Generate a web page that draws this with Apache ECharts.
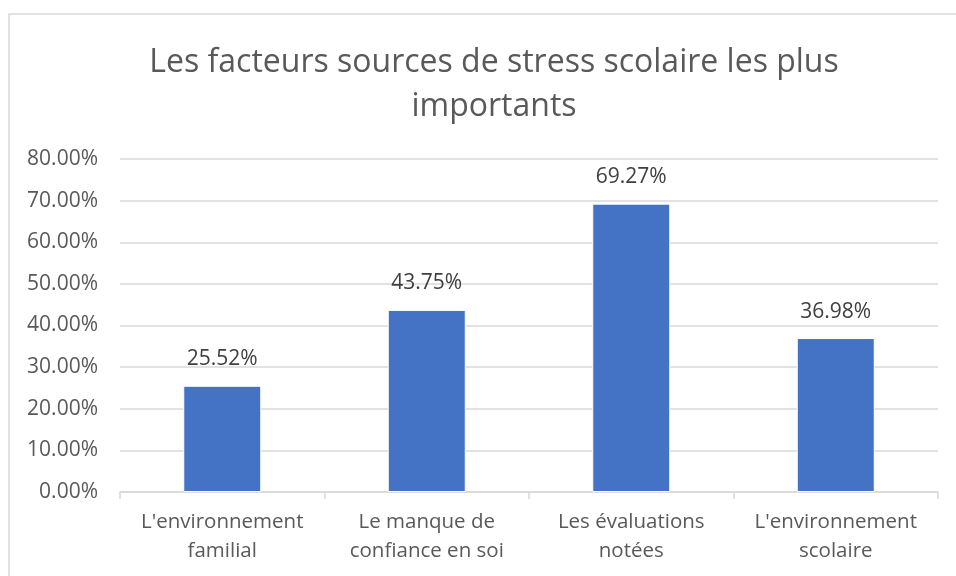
<!DOCTYPE html>
<html lang="fr">
<head>
    <meta charset="utf-8">
    <title>stress scolaire</title>
    <script src="https://cdn.jsdelivr.net/npm/echarts@6/dist/echarts.min.js"></script>
    <style>
        html, body { margin: 0; padding: 0; background: #fff; }
        #container { width: 956px; height: 576px; }
    </style>
</head>
<body>
<div id="container"></div>
<script>
    const categories = [
        "L'environnement\nfamilial",
        "Le manque de\nconfiance en soi",
        "Les évaluations\nnotées",
        "L'environnement\nscolaire"
    ];
    const values = [25.52, 43.75, 69.27, 36.98];
    const titleText = "Les facteurs sources de stress scolaire les plus\nimportants";

    const font = "'Open Sans', 'Noto Sans', sans-serif";

    const option = {
        animation: false,
        textStyle: { fontFamily: font },
        title: {
            text: titleText,
            left: 489,
            textAlign: "center",
            top: 36,
            textStyle: {
                fontFamily: font,
                fontSize: 32,
                fontWeight: "normal",
                color: "#595959",
                lineHeight: 44
            }
        },
        graphic: [{
            type: "rect",
            shape: { x: 9, y: 14, width: 1000, height: 700 },
            style: { fill: "none", stroke: "#d9d9d9", lineWidth: 1.5 },
            silent: true,
            z: -1
        }],
        grid: {
            left: 120,
            right: 18,
            top: 159,
            bottom: 84
        },
        xAxis: {
            type: "category",
            data: categories,
            axisLine: { lineStyle: { color: "#d9d9d9", width: 1.5 } },
            axisTick: { show: true, length: 7, lineStyle: { color: "#d9d9d9", width: 1.5 } },
            axisLabel: {
                fontFamily: font,
                fontSize: 20.5,
                color: "#595959",
                lineHeight: 29,
                margin: 16,
                interval: 0
            }
        },
        yAxis: {
            type: "value",
            min: 0,
            max: 80,
            interval: 10,
            axisLine: { show: false },
            axisTick: { show: false },
            splitLine: { lineStyle: { color: "#d9d9d9", width: 1.5 } },
            axisLabel: {
                fontFamily: font,
                fontSize: 21,
                color: "#595959",
                margin: 22,
                formatter: v => v.toFixed(2) + "%"
            }
        },
        series: [{
            type: "bar",
            data: values,
            barWidth: 78,
            itemStyle: { color: "#4472C4", borderColor: "#ffffff", borderWidth: 1 },
            label: {
                show: true,
                position: "top",
                distance: 16,
                fontFamily: font,
                fontSize: 21,
                color: "#404040",
                formatter: p => p.value.toFixed(2) + "%"
            }
        }]
    };

    const chart = echarts.init(document.getElementById("container"));
    chart.setOption(option);
</script>
</body>
</html>
